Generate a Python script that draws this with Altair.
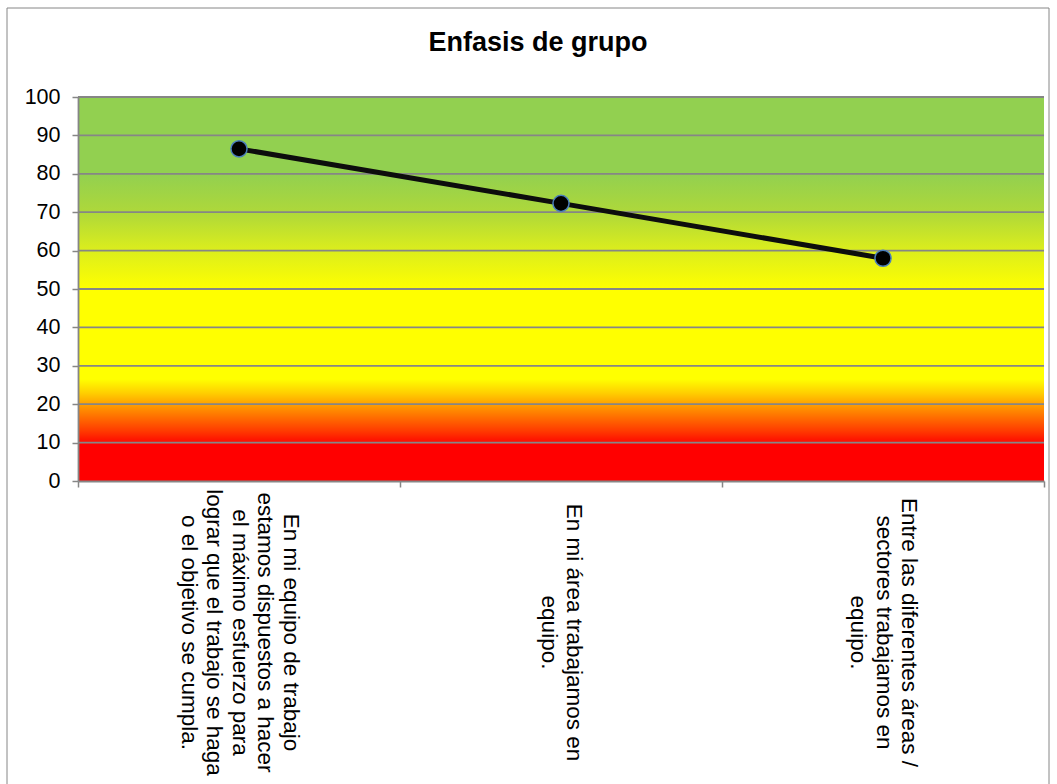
import altair as alt
import pandas as pd

# Survey items (line breaks as shown under the axis)
items = [
    "En mi equipo de trabajo\nestamos dispuestos a hacer\nel máximo esfuerzo para\nlograr que el trabajo se haga\no el objetivo se cumpla.",
    "En mi área trabajamos en\nequipo.",
    "Entre las diferentes áreas /\nsectores trabajamos en\nequipo.",
]
scores = [86.5, 72.3, 58.0]
y_ticks = [0, 10, 20, 30, 40, 50, 60, 70, 80, 90, 100]

W, H = 966, 384
GRAY = "#868686"
FONT = "Liberation Sans"
LINE_H = 25.5

df = pd.DataFrame({"item": items, "score": scores})
band = pd.DataFrame({"lo": [0], "hi": [100]})
grid = pd.DataFrame({"v": y_ticks[1:]})

y_scale = alt.Scale(domain=[0, 100], nice=False)
x_scale = alt.Scale(type="band", paddingInner=0, paddingOuter=0)

y_axis = alt.Axis(
    values=y_ticks,
    tickCount=len(y_ticks),
    labelOverlap=False,
    labelFontSize=21.5,
    labelFont=FONT,
    labelColor="#000000",
    labelPadding=12,
    tickSize=6,
    tickColor=GRAY,
    tickWidth=1.5,
    domainColor=GRAY,
    domainWidth=1.8,
    grid=False,
    zindex=1,
)

# Traffic-light gradient behind the plot (bottom red -> yellow -> green top)
ramp = alt.Gradient(
    gradient="linear",
    x1=0, y1=1, x2=0, y2=0,
    stops=[
        alt.GradientStop(offset=0.0, color="#FF0000"),
        alt.GradientStop(offset=0.095, color="#FF0000"),
        alt.GradientStop(offset=0.13, color="#FF3A00"),
        alt.GradientStop(offset=0.17, color="#FF7400"),
        alt.GradientStop(offset=0.2, color="#FFA000"),
        alt.GradientStop(offset=0.23, color="#FFD000"),
        alt.GradientStop(offset=0.265, color="#FFFF00"),
        alt.GradientStop(offset=0.5, color="#FFFF00"),
        alt.GradientStop(offset=0.6, color="#DCEE1C"),
        alt.GradientStop(offset=0.7, color="#AED83A"),
        alt.GradientStop(offset=0.8, color="#92D050"),
        alt.GradientStop(offset=1.0, color="#92D050"),
    ],
)

background = alt.Chart(band).mark_rect(fill=ramp, strokeWidth=0).encode(
    y=alt.Y("lo:Q", scale=y_scale, axis=y_axis, title=None),
    y2="hi:Q",
    x=alt.value(0),
    x2=alt.value("width"),
)

gridlines = alt.Chart(grid).mark_rule(color=GRAY, strokeWidth=1.8).encode(
    y=alt.Y("v:Q", scale=y_scale, axis=y_axis, title=None),
    x=alt.value(0),
    x2=alt.value("width"),
)

# Shift each rotated label block so its lines are centred on the category
n_lines = "length(split(datum.value, '\\n'))"
label_shift = {
    "condition": [
        {"test": f"{n_lines} == 5", "value": 2 * LINE_H},
        {"test": f"{n_lines} == 3", "value": 1 * LINE_H},
    ],
    "value": 0.5 * LINE_H,
}

x_axis = alt.Axis(
    labelExpr="split(datum.label, '\\n')",
    labelAngle=90,
    labelAlign="center",
    labelBaseline="middle",
    labelPadding=145,
    labelOffset=label_shift,
    labelLineHeight=LINE_H,
    labelLimit=600,
    labelOverlap=False,
    labelFontSize=22.5,
    labelFont=FONT,
    labelColor="#000000",
    tickBand="extent",
    tickSize=6,
    tickColor=GRAY,
    tickWidth=1.5,
    domainColor=GRAY,
    domainWidth=1.8,
    grid=False,
    zindex=1,
)

x_enc = alt.X("item:N", sort=None, scale=x_scale, title=None, axis=x_axis)
y_enc = alt.Y("score:Q", scale=y_scale, axis=y_axis, title=None)

line = alt.Chart(df).mark_line(color="#0d0d0d", strokeWidth=5).encode(x=x_enc, y=y_enc)

points = alt.Chart(df).mark_circle(
    size=260, color="#000000", opacity=1, stroke="#4A7EBB", strokeWidth=1.5
).encode(x=x_enc, y=y_enc)

# Outer chart border
frame = alt.Chart(band).mark_rect(fill=None, stroke=GRAY, strokeWidth=1).encode(
    x=alt.value(-71), x2=alt.value(971), y=alt.value(-89), y2=alt.value(710)
)

chart = (
    alt.layer(frame, background, gridlines, line, points)
    .properties(
        width=W,
        height=H,
        title=alt.TitleParams(
            "Enfasis de grupo",
            fontSize=27,
            fontWeight="bold",
            font=FONT,
            color="#000000",
            offset=-49,
            dx=-23,
        ),
        autosize=alt.AutoSizeParams(type="none"),
        padding={"left": 78, "top": 97, "right": 13, "bottom": 303},
        background="#FFFFFF",
    )
    .configure_view(stroke=None)
    .configure_axisY(labelOverlap=False)
)

chart.save("out.html", embed_options={"renderer": "svg", "actions": False})
